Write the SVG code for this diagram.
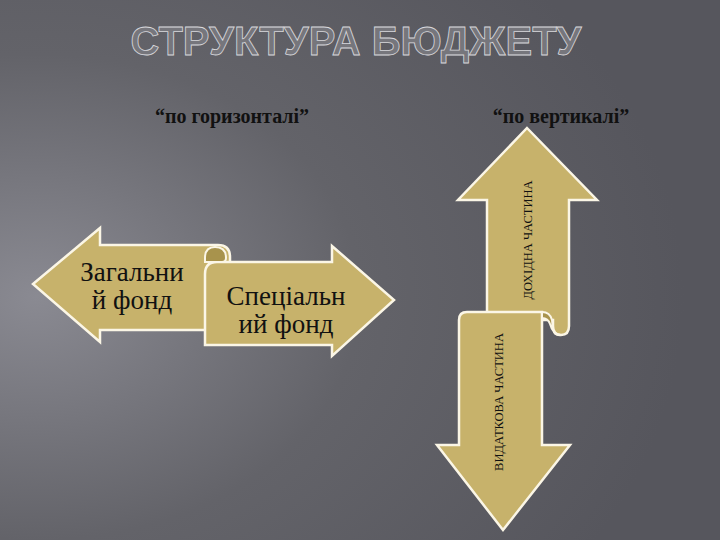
<svg xmlns="http://www.w3.org/2000/svg" width="720" height="540" viewBox="0 0 720 540">
<defs>
<radialGradient id="bg" cx="0.05" cy="0.55" r="0.9">
<stop offset="0" stop-color="#8a8a92"/>
<stop offset="0.5" stop-color="#636369"/>
<stop offset="1" stop-color="#56565d"/>
</radialGradient>
<style>
.ar{fill:#c7b26b;stroke:#fbf6e6;stroke-width:2.5;stroke-linejoin:miter}
.curl{fill:#a8934c;stroke:#fbf6e6;stroke-width:2}
.big{font-family:'Liberation Serif','DejaVu Serif',serif;font-size:27px;fill:#111;text-anchor:middle}
.v{font-family:'Liberation Serif','DejaVu Serif',serif;font-size:12.5px;fill:#111;text-anchor:middle}
.sub{font-family:'Liberation Serif','DejaVu Serif',serif;font-size:20px;font-weight:bold;fill:#111;text-anchor:middle}
</style>
</defs>
<rect width="720" height="540" fill="url(#bg)"/>
<text x="356" y="55" text-anchor="middle" font-family="Liberation Sans,Arial,sans-serif" font-weight="bold" font-size="40" fill="#76767c" stroke="#d8d8dc" stroke-width="0.8">СТРУКТУРА БЮДЖЕТУ</text>
<text class="sub" x="232" y="123">“по горизонталі”</text>
<text class="sub" x="561" y="123">“по вертикалі”</text>
<g id="general">
<path class="ar" d="M33,284 L100,228 L100,245 L218,245 Q230,245 230,257 L230,330 L100,330 L100,342 Z"/>
<text class="big" x="132" y="281" font-family="Liberation Serif, serif">Загальни</text>
<text class="big" x="132" y="309" font-family="Liberation Serif, serif">й фонд</text>
</g>
<g id="special">
<path class="ar" d="M205,274 Q205,262 217,262 L332,262 L332,246 L394,300 L332,356 L332,345 L205,345 Z"/>
<path class="curl" d="M205,262 L205,258 Q205,247 215,247 Q226,247 226,258 Q226,262 222,262 Z"/>
<text class="big" x="286" y="305" font-family="Liberation Serif, serif">Спеціальн</text>
<text class="big" x="286" y="333" font-family="Liberation Serif, serif">ий фонд</text>
</g>
<g id="income">
<path class="ar" d="M527,128 L597,200 L569,200 L569,326 Q569,335 561,335 Q553,335 553,326 L553,320 L487,320 L487,200 L458,200 Z"/>
<text class="v" transform="translate(532,240) rotate(-90)">ДОХІДНА ЧАСТИНА</text>
</g>
<g id="expense">
<path class="ar" d="M459,320 Q459,312 467,312 L542,312 L542,445 L570,445 L503,530 L437,445 L459,445 Z"/>
<path class="curl" d="M542,312 Q550,312 552,320 L553,330 Q555,336 561,335 Q553,335 550,324 Q548,318 542,318 Z"/>
<text class="v" transform="translate(503,402) rotate(-90)">ВИДАТКОВА ЧАСТИНА</text>
</g>
<g id="connectors"/>
</svg>
